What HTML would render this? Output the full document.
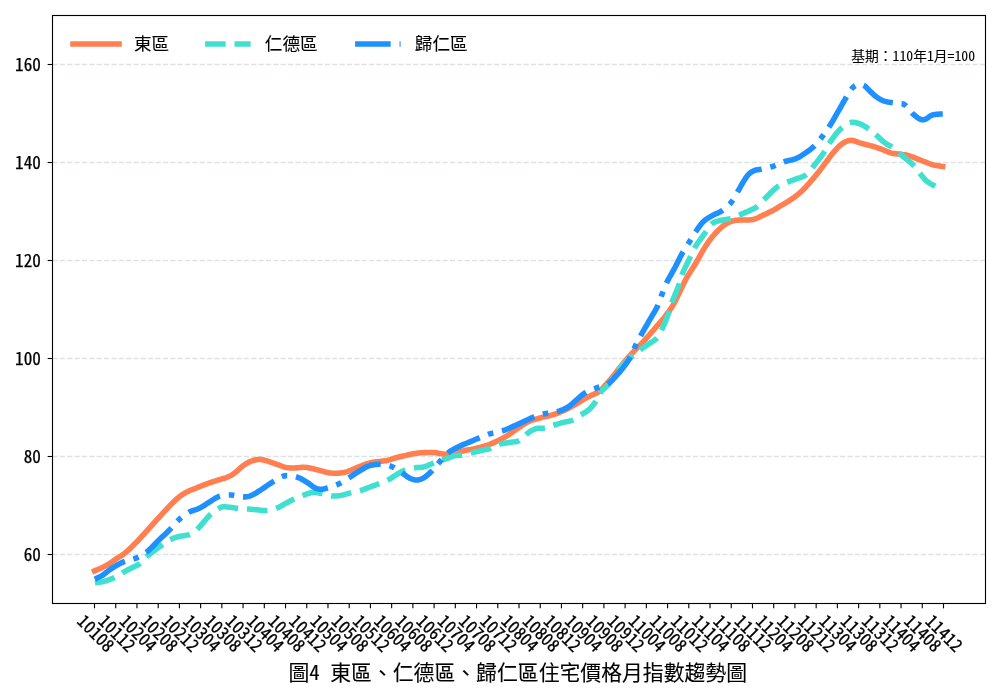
<!DOCTYPE html>
<html><head><meta charset="utf-8"><title>圖4 東區、仁德區、歸仁區住宅價格月指數趨勢圖</title>
<style>
html,body{margin:0;padding:0;background:#fff;width:1000px;height:700px;overflow:hidden}
svg{display:block;will-change:transform}
text{font-family:'Noto Sans Mono CJK TC','Noto Sans CJK TC','Liberation Sans',sans-serif;fill:#000;stroke:#000;stroke-width:0.25px}
</style></head><body>
<svg width="1000" height="700" viewBox="0 0 1000 700">
<rect width="1000" height="700" fill="#ffffff"/>
<line x1="52.5" y1="554.5" x2="985.5" y2="554.5" stroke="#dde2e3" stroke-width="1.389" stroke-dasharray="5.14 2.22"/>
<line x1="52.5" y1="456.5" x2="985.5" y2="456.5" stroke="#dde2e3" stroke-width="1.389" stroke-dasharray="5.14 2.22"/>
<line x1="52.5" y1="358.5" x2="985.5" y2="358.5" stroke="#dde2e3" stroke-width="1.389" stroke-dasharray="5.14 2.22"/>
<line x1="52.5" y1="260.5" x2="985.5" y2="260.5" stroke="#dde2e3" stroke-width="1.389" stroke-dasharray="5.14 2.22"/>
<line x1="52.5" y1="162.5" x2="985.5" y2="162.5" stroke="#dde2e3" stroke-width="1.389" stroke-dasharray="5.14 2.22"/>
<line x1="52.5" y1="64.5" x2="985.5" y2="64.5" stroke="#dde2e3" stroke-width="1.389" stroke-dasharray="5.14 2.22"/>
<path d="M94.50 570.90 L95.81 570.34 L97.12 569.79 L98.43 569.24 L99.74 568.68 L101.03 568.10 L102.30 567.50 L103.52 566.89 L104.71 566.27 L105.90 565.64 L107.07 564.98 L108.24 564.31 L109.40 563.60 L110.59 562.83 L111.78 562.00 L112.96 561.15 L114.12 560.30 L115.27 559.48 L116.40 558.70 L117.38 558.07 L118.34 557.48 L119.29 556.90 L120.23 556.33 L121.16 555.74 L122.10 555.10 L123.08 554.39 L124.06 553.66 L125.03 552.90 L125.99 552.12 L126.95 551.32 L127.90 550.50 L128.87 549.63 L129.83 548.73 L130.77 547.81 L131.72 546.88 L132.66 545.94 L133.60 545.00 L134.55 544.06 L135.49 543.12 L136.42 542.18 L137.37 541.21 L138.32 540.23 L139.30 539.20 L140.44 537.98 L141.59 536.73 L142.77 535.43 L143.96 534.11 L145.17 532.76 L146.40 531.40 L147.79 529.86 L149.21 528.27 L150.65 526.66 L152.10 525.03 L153.55 523.40 L155.00 521.80 L156.43 520.22 L157.86 518.65 L159.30 517.07 L160.73 515.51 L162.16 513.95 L163.60 512.40 L165.01 510.87 L166.42 509.34 L167.82 507.82 L169.24 506.31 L170.66 504.84 L172.10 503.40 L173.50 502.03 L174.91 500.67 L176.33 499.33 L177.77 498.05 L179.22 496.83 L180.70 495.70 L182.12 494.73 L183.58 493.82 L185.06 492.97 L186.52 492.18 L187.95 491.46 L189.30 490.80 L190.30 490.35 L191.27 489.97 L192.21 489.62 L193.14 489.29 L194.06 488.96 L195.00 488.60 L195.95 488.21 L196.90 487.81 L197.85 487.40 L198.80 486.99 L199.75 486.59 L200.70 486.20 L201.65 485.82 L202.60 485.45 L203.55 485.08 L204.50 484.71 L205.45 484.35 L206.40 484.00 L207.35 483.65 L208.29 483.31 L209.24 482.98 L210.19 482.64 L211.14 482.32 L212.10 482.00 L213.07 481.68 L214.06 481.37 L215.06 481.07 L216.04 480.77 L216.99 480.48 L217.90 480.20 L218.62 479.97 L219.31 479.75 L219.99 479.54 L220.65 479.33 L221.32 479.12 L222.00 478.90 L222.72 478.68 L223.44 478.47 L224.16 478.26 L224.90 478.03 L225.64 477.78 L226.40 477.50 L227.32 477.13 L228.27 476.73 L229.24 476.30 L230.22 475.84 L231.17 475.34 L232.10 474.80 L233.03 474.19 L233.94 473.52 L234.83 472.82 L235.71 472.09 L236.60 471.35 L237.50 470.60 L238.46 469.78 L239.42 468.93 L240.38 468.05 L241.34 467.19 L242.31 466.36 L243.30 465.60 L244.23 464.94 L245.16 464.30 L246.10 463.69 L247.06 463.12 L248.02 462.59 L249.00 462.10 L249.98 461.66 L250.98 461.25 L252.00 460.87 L253.01 460.54 L254.02 460.25 L255.00 460.00 L255.84 459.81 L256.66 459.65 L257.47 459.52 L258.29 459.43 L259.12 459.39 L260.00 459.40 L261.11 459.50 L262.27 459.69 L263.47 459.95 L264.67 460.26 L265.86 460.58 L267.00 460.90 L268.03 461.21 L269.04 461.55 L270.04 461.91 L271.02 462.28 L272.01 462.64 L273.00 463.00 L274.00 463.35 L275.00 463.70 L276.00 464.05 L277.00 464.40 L278.00 464.75 L279.00 465.10 L280.00 465.46 L280.99 465.85 L281.99 466.23 L282.99 466.60 L283.99 466.92 L285.00 467.20 L285.99 467.42 L286.99 467.60 L287.99 467.74 L288.99 467.85 L290.00 467.94 L291.00 468.00 L291.99 468.03 L292.97 468.02 L293.95 467.98 L294.94 467.92 L295.95 467.86 L297.00 467.80 L298.25 467.71 L299.54 467.59 L300.86 467.46 L302.19 467.35 L303.51 467.28 L304.80 467.30 L306.01 467.40 L307.20 467.55 L308.38 467.75 L309.56 467.98 L310.76 468.24 L312.00 468.50 L313.45 468.83 L314.93 469.20 L316.44 469.60 L317.96 470.01 L319.49 470.42 L321.00 470.80 L322.50 471.18 L324.02 471.58 L325.53 471.98 L327.04 472.34 L328.53 472.66 L330.00 472.90 L331.33 473.06 L332.65 473.17 L333.95 473.23 L335.24 473.26 L336.53 473.25 L337.80 473.20 L339.03 473.12 L340.25 473.00 L341.47 472.85 L342.67 472.67 L343.85 472.45 L345.00 472.20 L346.04 471.93 L347.05 471.63 L348.05 471.30 L349.03 470.95 L350.01 470.58 L351.00 470.20 L352.01 469.80 L353.01 469.37 L354.00 468.92 L355.00 468.47 L356.00 468.03 L357.00 467.60 L358.00 467.19 L359.00 466.78 L359.99 466.37 L361.00 465.97 L362.00 465.58 L363.00 465.20 L364.00 464.82 L364.99 464.45 L365.99 464.08 L366.99 463.72 L367.99 463.40 L369.00 463.10 L369.99 462.84 L370.99 462.61 L371.99 462.41 L372.99 462.22 L374.00 462.06 L375.00 461.90 L376.00 461.77 L377.00 461.66 L378.00 461.58 L379.00 461.49 L380.00 461.40 L381.00 461.30 L382.00 461.19 L383.01 461.09 L384.01 460.98 L385.01 460.85 L386.01 460.70 L387.00 460.50 L388.01 460.24 L389.01 459.94 L390.00 459.60 L391.00 459.25 L392.00 458.91 L393.00 458.60 L394.00 458.31 L395.00 458.04 L396.00 457.77 L397.00 457.51 L398.00 457.25 L399.00 457.00 L399.99 456.76 L400.98 456.52 L401.97 456.29 L402.96 456.06 L403.97 455.84 L405.00 455.60 L406.15 455.33 L407.32 455.05 L408.51 454.77 L409.70 454.50 L410.90 454.24 L412.10 454.00 L413.29 453.78 L414.49 453.57 L415.69 453.37 L416.90 453.19 L418.10 453.03 L419.30 452.90 L420.48 452.80 L421.67 452.73 L422.85 452.68 L424.03 452.65 L425.21 452.62 L426.40 452.60 L427.60 452.57 L428.80 452.54 L430.00 452.52 L431.20 452.51 L432.40 452.54 L433.60 452.60 L434.80 452.71 L436.01 452.87 L437.22 453.05 L438.41 453.24 L439.58 453.43 L440.70 453.60 L441.62 453.75 L442.51 453.91 L443.38 454.07 L444.24 454.20 L445.11 454.29 L446.00 454.30 L446.99 454.22 L447.99 454.05 L448.99 453.83 L450.01 453.58 L451.05 453.33 L452.10 453.10 L453.27 452.87 L454.46 452.64 L455.67 452.41 L456.88 452.17 L458.10 451.94 L459.30 451.70 L460.49 451.47 L461.67 451.23 L462.85 451.00 L464.03 450.77 L465.21 450.53 L466.40 450.30 L467.60 450.07 L468.80 449.85 L470.00 449.62 L471.21 449.40 L472.40 449.16 L473.60 448.90 L474.79 448.63 L475.97 448.34 L477.15 448.04 L478.34 447.74 L479.52 447.42 L480.70 447.10 L481.90 446.78 L483.11 446.45 L484.31 446.12 L485.51 445.77 L486.71 445.40 L487.90 445.00 L489.10 444.57 L490.28 444.11 L491.47 443.63 L492.65 443.14 L493.83 442.62 L495.00 442.10 L496.19 441.56 L497.38 441.00 L498.56 440.43 L499.75 439.84 L500.92 439.23 L502.10 438.60 L503.31 437.93 L504.52 437.24 L505.72 436.53 L506.92 435.80 L508.11 435.06 L509.30 434.30 L510.50 433.50 L511.68 432.68 L512.86 431.84 L514.04 430.99 L515.22 430.14 L516.40 429.30 L517.59 428.45 L518.79 427.59 L519.98 426.72 L521.18 425.87 L522.38 425.06 L523.60 424.30 L524.77 423.62 L525.94 422.96 L527.12 422.34 L528.30 421.75 L529.50 421.20 L530.70 420.70 L531.90 420.26 L533.15 419.88 L534.40 419.53 L535.63 419.20 L536.81 418.90 L537.90 418.60 L538.65 418.38 L539.34 418.18 L540.00 417.98 L540.66 417.79 L541.35 417.60 L542.10 417.40 L543.19 417.13 L544.36 416.86 L545.58 416.58 L546.83 416.30 L548.08 416.01 L549.30 415.70 L550.49 415.38 L551.68 415.06 L552.86 414.72 L554.04 414.37 L555.22 414.00 L556.40 413.60 L557.61 413.17 L558.81 412.71 L560.02 412.24 L561.22 411.74 L562.41 411.23 L563.60 410.70 L564.80 410.14 L565.98 409.57 L567.17 408.97 L568.35 408.36 L569.52 407.74 L570.70 407.10 L571.90 406.43 L573.11 405.74 L574.31 405.04 L575.51 404.33 L576.71 403.61 L577.90 402.90 L579.09 402.18 L580.27 401.45 L581.45 400.72 L582.63 399.99 L583.81 399.28 L585.00 398.60 L586.17 397.96 L587.35 397.35 L588.54 396.76 L589.72 396.18 L590.91 395.59 L592.10 395.00 L593.31 394.43 L594.53 393.90 L595.75 393.37 L596.96 392.80 L598.15 392.16 L599.30 391.40 L600.55 390.38 L601.75 389.22 L602.93 387.96 L604.08 386.64 L605.24 385.31 L606.40 384.00 L607.61 382.66 L608.82 381.31 L610.03 379.93 L611.23 378.54 L612.42 377.13 L613.60 375.70 L614.80 374.19 L615.98 372.63 L617.15 371.06 L618.32 369.48 L619.50 367.92 L620.70 366.40 L621.88 364.95 L623.08 363.51 L624.28 362.09 L625.48 360.68 L626.69 359.29 L627.90 357.90 L629.08 356.55 L630.25 355.21 L631.43 353.89 L632.61 352.57 L633.80 351.28 L635.00 350.00 L636.17 348.81 L637.32 347.69 L638.49 346.58 L639.68 345.44 L640.91 344.23 L642.20 342.90 L644.06 340.88 L646.04 338.66 L648.09 336.30 L650.17 333.88 L652.23 331.49 L654.20 329.20 L655.98 327.16 L657.75 325.16 L659.50 323.18 L661.21 321.21 L662.88 319.22 L664.50 317.20 L666.02 315.24 L667.50 313.28 L668.95 311.31 L670.35 309.32 L671.70 307.29 L673.00 305.20 L674.26 303.00 L675.44 300.74 L676.57 298.45 L677.67 296.13 L678.78 293.80 L679.90 291.50 L681.02 289.20 L682.12 286.89 L683.21 284.58 L684.32 282.27 L685.48 279.98 L686.70 277.70 L688.04 275.41 L689.44 273.16 L690.88 270.92 L692.36 268.67 L693.83 266.37 L695.30 264.00 L696.91 261.24 L698.54 258.33 L700.19 255.37 L701.82 252.45 L703.43 249.66 L705.00 247.10 L706.21 245.24 L707.38 243.48 L708.54 241.81 L709.70 240.20 L710.88 238.63 L712.10 237.10 L713.26 235.70 L714.44 234.33 L715.63 233.00 L716.84 231.72 L718.07 230.48 L719.30 229.30 L720.45 228.23 L721.61 227.19 L722.78 226.19 L723.96 225.25 L725.17 224.38 L726.40 223.60 L727.56 222.96 L728.75 222.38 L729.95 221.87 L731.16 221.42 L732.38 221.03 L733.60 220.70 L734.77 220.46 L735.95 220.29 L737.13 220.18 L738.32 220.11 L739.51 220.05 L740.70 220.00 L741.90 219.97 L743.10 219.99 L744.30 220.02 L745.50 220.06 L746.70 220.06 L747.90 220.00 L749.09 219.90 L750.28 219.79 L751.47 219.64 L752.66 219.45 L753.83 219.21 L755.00 218.90 L756.20 218.49 L757.39 217.99 L758.57 217.44 L759.74 216.86 L760.92 216.27 L762.10 215.70 L763.31 215.14 L764.53 214.58 L765.76 214.01 L766.97 213.43 L768.15 212.86 L769.30 212.30 L770.29 211.81 L771.24 211.32 L772.16 210.84 L773.09 210.35 L774.03 209.84 L775.00 209.30 L776.14 208.64 L777.31 207.94 L778.50 207.21 L779.70 206.47 L780.91 205.73 L782.10 205.00 L783.30 204.29 L784.50 203.59 L785.71 202.89 L786.91 202.18 L788.11 201.45 L789.30 200.70 L790.50 199.92 L791.69 199.12 L792.88 198.30 L794.06 197.47 L795.23 196.60 L796.40 195.70 L797.62 194.71 L798.84 193.69 L800.04 192.64 L801.24 191.56 L802.43 190.44 L803.60 189.30 L804.81 188.06 L806.00 186.77 L807.18 185.45 L808.36 184.11 L809.53 182.75 L810.70 181.40 L811.90 180.02 L813.10 178.64 L814.30 177.24 L815.50 175.82 L816.70 174.38 L817.90 172.90 L819.19 171.26 L820.48 169.57 L821.77 167.85 L823.07 166.11 L824.38 164.35 L825.70 162.60 L827.10 160.73 L828.50 158.81 L829.92 156.88 L831.36 154.97 L832.82 153.13 L834.30 151.40 L835.66 149.88 L837.04 148.37 L838.43 146.91 L839.84 145.56 L841.30 144.34 L842.80 143.30 L844.17 142.51 L845.59 141.80 L847.03 141.21 L848.49 140.74 L849.95 140.43 L851.40 140.30 L852.83 140.41 L854.26 140.77 L855.69 141.27 L857.13 141.85 L858.56 142.42 L860.00 142.90 L861.46 143.31 L862.95 143.71 L864.44 144.11 L865.90 144.49 L867.30 144.86 L868.60 145.20 L869.50 145.43 L870.32 145.63 L871.11 145.83 L871.89 146.02 L872.71 146.24 L873.60 146.50 L874.89 146.90 L876.27 147.35 L877.72 147.83 L879.19 148.34 L880.66 148.87 L882.10 149.40 L883.53 149.98 L884.96 150.61 L886.38 151.26 L887.81 151.88 L889.25 152.44 L890.70 152.90 L892.12 153.22 L893.55 153.46 L894.98 153.63 L896.42 153.77 L897.86 153.92 L899.30 154.10 L900.74 154.29 L902.18 154.46 L903.62 154.64 L905.05 154.84 L906.48 155.08 L907.90 155.40 L909.33 155.81 L910.75 156.29 L912.17 156.82 L913.58 157.38 L914.99 157.95 L916.40 158.50 L917.83 159.06 L919.26 159.63 L920.70 160.21 L922.13 160.78 L923.56 161.35 L925.00 161.90 L926.43 162.44 L927.85 162.98 L929.27 163.51 L930.70 164.02 L932.14 164.49 L933.60 164.90 L935.08 165.25 L936.57 165.54 L938.08 165.79 L939.59 166.02 L941.10 166.25 L942.60 166.50" fill="none" stroke="#ff7f50" stroke-width="5.556" stroke-linecap="square" stroke-linejoin="round"/>
<path d="M94.97 582.84 L95.79 582.74 L97.05 582.60 L98.32 582.46 L99.61 582.30 L100.93 582.09 L102.30 581.80 L104.11 581.33 L106.03 580.77 L108.01 580.13 L109.98 579.43 L111.89 578.68 L113.70 577.90 L114.62 577.45M122.24 572.94 L122.30 572.90 L123.74 572.11 L125.18 571.34 L126.63 570.58 L128.08 569.83 L129.54 569.07 L131.00 568.30 L132.53 567.53 L134.10 566.80 L135.68 566.06 L137.23 565.28 L138.71 564.44 L140.10 563.50 L140.31 563.32M146.40 556.89 L146.70 556.60 L148.90 554.74 L151.45 552.73 L154.20 550.66 L156.99 548.62 L159.67 546.70 L162.10 545.00 L162.76 544.54M170.17 539.69 L171.10 539.20 L172.28 538.66 L173.43 538.20 L174.57 537.80 L175.70 537.44 L176.84 537.11 L178.00 536.80 L179.18 536.52 L180.38 536.29 L181.60 536.08 L182.79 535.89 L183.93 535.70 L185.00 535.50 L185.77 535.36 L186.48 535.24 L187.16 535.13 L187.84 534.99 L188.55 534.79 L189.30 534.50 L189.85 534.24M197.15 529.25 L199.25 527.21 L201.54 524.65 L203.90 521.85 L206.27 519.03 L208.55 516.44 L210.70 514.30 L210.96 514.08M218.14 508.88 L218.60 508.60 L219.23 508.21 L219.80 507.86 L220.33 507.55 L220.87 507.29 L221.45 507.07 L222.10 506.90 L223.09 506.77 L224.18 506.76 L225.34 506.83 L226.54 506.95 L227.77 507.08 L229.00 507.20 L230.42 507.34 L231.88 507.53 L233.37 507.73 L234.88 507.94 L236.39 508.14 L237.90 508.30 L238.10 508.32M246.96 508.89 L247.10 508.90 L248.73 509.04 L250.37 509.19 L252.02 509.35 L253.68 509.50 L255.34 509.66 L257.00 509.80 L258.68 509.96 L260.38 510.16 L262.08 510.35 L263.77 510.50 L265.45 510.56 L267.10 510.50 L267.44 510.46M276.07 508.42 L276.40 508.30 L277.88 507.68 L279.32 506.97 L280.75 506.19 L282.16 505.38 L283.58 504.58 L285.00 503.80 L286.43 503.04 L287.85 502.28 L289.27 501.51 L290.69 500.75 L292.14 500.01 L293.60 499.30 L294.32 498.97M302.53 495.54 L302.90 495.40 L304.42 494.83 L305.94 494.25 L307.46 493.70 L308.99 493.22 L310.53 492.84 L312.10 492.60 L313.74 492.52 L315.41 492.59 L317.09 492.76 L318.78 493.01 L320.45 493.30 L322.10 493.60 L322.54 493.70M331.13 495.96 L331.40 496.00 L332.94 496.09 L334.47 496.09 L336.01 496.00 L337.56 495.85 L339.12 495.64 L340.70 495.40 L342.46 495.06 L344.25 494.61 L346.06 494.11 L347.86 493.57 L349.65 493.06 L351.29 492.63M359.97 490.70 L360.70 490.50 L362.26 489.99 L363.81 489.43 L365.36 488.83 L366.91 488.21 L368.45 487.59 L370.00 487.00 L371.55 486.43 L373.12 485.87 L374.68 485.31 L376.23 484.75 L377.78 484.18 L379.26 483.61M387.47 480.21 L387.90 480.00 L389.29 479.24 L390.65 478.42 L392.00 477.55 L393.33 476.68 L394.67 475.82 L396.00 475.00 L397.25 474.24 L398.48 473.47 L399.70 472.71 L400.94 471.99 L402.23 471.31 L403.60 470.70 L405.26 470.09 L405.33 470.07M413.97 467.96 L414.30 467.90 L415.88 467.67 L417.44 467.55 L418.98 467.46 L420.52 467.36 L422.05 467.19 L423.60 466.90 L425.27 466.42 L426.96 465.83 L428.65 465.15 L430.32 464.44 L431.98 463.74 L433.60 463.10 L433.80 463.02M442.19 459.97 L442.98 459.73 L443.80 459.50 L444.59 459.30 L445.37 459.09 L446.16 458.87 L447.00 458.60 L448.04 458.21 L449.11 457.75 L450.20 457.26 L451.31 456.79 L452.44 456.35 L453.60 456.00 L454.84 455.74 L456.10 455.56 L457.39 455.44 L458.70 455.33 L460.04 455.19 L461.40 455.00 L462.09 454.88M470.84 453.03 L471.40 452.90 L473.01 452.53 L474.61 452.15 L476.21 451.76 L477.80 451.37 L479.40 450.99 L481.00 450.60 L482.62 450.24 L484.26 449.90 L485.90 449.56 L487.53 449.20 L489.13 448.79 L490.70 448.30 L490.95 448.20M499.05 444.39 L499.30 444.30 L500.90 443.85 L502.55 443.49 L504.23 443.19 L505.92 442.93 L507.62 442.68 L509.30 442.40 L511.00 442.16 L512.73 442.00 L514.47 441.84 L516.17 441.62 L517.79 441.26 L519.30 440.70 L519.36 440.66M526.03 434.74 L526.40 434.40 L527.28 433.68 L528.13 432.98 L528.96 432.32 L529.79 431.70 L530.63 431.13 L531.50 430.60 L532.36 430.14 L533.25 429.72 L534.15 429.34 L535.05 429.01 L535.94 428.72 L536.80 428.50 L537.52 428.37 L538.23 428.29 L538.93 428.24 L539.62 428.23 L540.31 428.22 L541.00 428.20 L541.67 428.20 L542.34 428.23 L543.01 428.27 L543.68 428.29 L544.34 428.27 L544.91 428.21M553.37 425.27 L553.60 425.20 L554.97 424.78 L556.47 424.33 L558.07 423.87 L559.72 423.40 L561.38 422.94 L563.00 422.50 L564.65 422.10 L566.34 421.75 L568.04 421.41 L569.72 421.03 L571.35 420.58 L572.90 420.00 L573.34 419.78M580.85 414.90 L582.14 414.10 L583.62 413.22 L585.11 412.32 L586.58 411.38 L587.99 410.39 L589.30 409.30 L590.51 408.13 L591.65 406.88 L592.73 405.57 L593.76 404.21 L594.74 402.81 L595.70 401.40 L595.90 401.06M600.03 393.11 L600.70 392.10 L601.84 390.77 L603.09 389.56 L604.42 388.41 L605.79 387.24 L607.16 385.96 L608.50 384.50 L610.20 382.25 L611.88 379.70 L613.33 377.37M618.30 369.92 L619.00 369.00 L620.98 366.74 L623.06 364.54 L625.22 362.40 L627.39 360.36 L629.53 358.42 L631.60 356.60 L633.03 355.38M640.14 349.94 L641.30 349.10 L642.63 348.15 L643.93 347.25 L645.20 346.39 L646.47 345.53 L647.73 344.68 L649.00 343.80 L650.29 342.94 L651.60 342.12 L652.90 341.30 L654.18 340.43 L655.39 339.48 L656.50 338.40 L656.92 337.89M661.49 330.22 L662.00 329.20 L663.17 326.74 L664.36 324.03 L665.54 321.18 L666.68 318.30 L667.74 315.51 L668.70 312.90 L669.32 311.10M671.94 302.58 L672.20 301.80 L673.21 299.10 L674.37 296.20 L675.60 293.21 L676.83 290.21 L677.99 287.31 L679.00 284.60 L679.40 283.38M681.97 274.87 L682.50 273.40 L683.59 270.80 L684.86 268.04 L686.23 265.21 L687.63 262.40 L688.98 259.70 L690.20 257.20 L690.64 256.26M694.47 248.25 L695.00 247.30 L696.52 244.87 L698.29 242.26 L700.19 239.58 L702.14 236.93 L704.01 234.40 L705.70 232.10 L706.17 231.41M711.38 224.25 L712.10 223.60 L713.19 222.87 L714.32 222.30 L715.50 221.83 L716.72 221.44 L717.98 221.08 L719.30 220.70 L720.96 220.29 L722.73 219.96 L724.57 219.67 L726.42 219.37 L728.25 219.03 L730.00 218.60 L730.81 218.34M739.08 215.09 L739.30 215.00 L740.97 214.31 L742.68 213.60 L744.40 212.88 L746.09 212.15 L747.74 211.42 L749.30 210.70 L750.57 210.13 L751.78 209.60 L752.96 209.07 L754.11 208.50 L755.25 207.86 L756.40 207.10 L757.58 206.16M763.82 199.78 L764.30 199.30 L766.36 197.23 L768.59 194.92 L770.92 192.52 L773.29 190.20 L775.64 188.10 L777.90 186.40 L778.96 185.76M787.22 182.31 L787.50 182.20 L788.78 181.68 L790.02 181.20 L791.23 180.73 L792.44 180.27 L793.69 179.80 L795.00 179.30 L796.67 178.72 L798.45 178.17 L800.28 177.61 L802.09 176.98 L803.82 176.23 L805.40 175.30 L806.36 174.54M812.21 167.76 L812.90 166.90 L814.84 164.52 L816.96 161.86 L819.14 159.05 L821.27 156.23 L823.23 153.53 L824.79 151.26M829.19 143.45 L829.60 142.80 L831.23 140.43 L833.12 137.79 L835.18 135.04 L837.34 132.36 L839.50 129.93 L841.60 127.90 L842.20 127.39M849.76 122.72 L850.90 122.40 L852.29 122.24 L853.69 122.29 L855.10 122.49 L856.50 122.82 L857.90 123.23 L859.30 123.70 L860.87 124.33 L862.46 125.10 L864.05 125.98 L865.61 126.94 L867.14 127.92 L868.60 128.90 L868.76 129.01M875.73 134.57 L876.00 134.80 L877.46 136.09 L878.95 137.48 L880.46 138.91 L881.96 140.32 L883.45 141.64 L884.90 142.80 L886.04 143.59 L887.16 144.27 L888.27 144.89 L889.38 145.50 L890.48 146.15 L891.60 146.90 L891.93 147.15M898.72 152.90 L899.30 153.40 L901.55 155.25 L904.09 157.28 L906.76 159.42 L909.40 161.59 L911.83 163.71 L913.90 165.70 L914.36 166.21M919.78 173.25 L919.90 173.40 L920.97 174.72 L922.05 176.07 L923.14 177.42 L924.27 178.72 L925.45 179.96 L926.70 181.10 L928.02 182.12 L929.43 183.06 L930.88 183.93 L932.36 184.75 L933.84 185.54 L935.28 186.29" fill="none" stroke="#40e0d0" stroke-width="5.556" stroke-linecap="butt" stroke-linejoin="round"/>
<path d="M94.83 579.14 L95.81 578.67 L97.13 578.05 L98.45 577.44 L99.76 576.81 L101.04 576.13 L102.30 575.40 L103.53 574.58 L104.72 573.68 L105.88 572.75 L107.04 571.80 L108.21 570.88 L109.40 570.00 L110.58 569.18 L111.78 568.38 L112.97 567.60 L114.18 566.84 L115.39 566.11 L116.60 565.40 L117.75 564.74 L118.87 564.11 L120.00 563.51 L121.16 562.92 L122.38 562.35 L123.70 561.80 L124.97 561.37M133.46 559.07 L133.90 558.94 L135.90 558.20 L137.78 557.36 L138.55 556.98M146.09 552.44 L146.70 552.00 L148.70 550.35 L150.68 548.51 L152.63 546.54 L154.58 544.51 L156.53 542.47 L158.50 540.50 L160.52 538.56 L162.57 536.61 L164.62 534.65 L166.65 532.71 L168.62 530.79 L170.50 528.90 L171.45 527.89M177.35 521.30 L177.86 520.77 L179.40 519.30 L180.97 517.94 L181.43 517.56M188.67 512.47 L189.30 512.10 L190.93 511.33 L192.60 510.70 L194.28 510.15 L195.97 509.61 L197.65 509.02 L199.30 508.30 L200.99 507.39 L202.67 506.39 L204.32 505.31 L205.98 504.22 L207.63 503.13 L209.30 502.10 L210.94 501.08 L212.56 500.01 L214.18 498.96 L215.83 497.97 L217.53 497.10 L219.30 496.40 L220.00 496.21M228.76 495.01 L229.36 494.99 L231.40 495.00 L233.47 495.17 L234.30 495.31M243.02 496.86 L243.60 496.90 L244.89 496.87 L246.08 496.78 L247.23 496.63 L248.35 496.40 L249.50 496.10 L250.70 495.70 L252.35 495.00 L254.11 494.08 L255.90 493.04 L257.64 491.95 L259.27 490.91 L260.70 490.00 L261.51 489.48 L262.22 489.01 L262.88 488.56 L263.53 488.11 L264.22 487.63 L265.00 487.10 L266.24 486.25 L267.59 485.32 L269.02 484.33 L270.51 483.33 L272.04 482.34 L273.60 481.40 L274.14 481.07M281.85 476.71 L283.02 476.22 L285.00 475.70 L286.98 475.48 L287.21 475.48M295.94 476.76 L297.10 477.10 L299.01 477.81 L300.89 478.70 L302.74 479.72 L304.54 480.79 L306.26 481.87 L307.90 482.90 L309.19 483.77 L310.41 484.69 L311.58 485.62 L312.71 486.50 L313.85 487.27 L315.00 487.90 L315.96 488.30 L316.91 488.64 L317.86 488.90 L318.80 489.10 L319.75 489.23 L320.70 489.30 L321.62 489.29 L322.52 489.20 L323.42 489.04 L324.35 488.83 L325.34 488.58 L326.40 488.30 L327.87 487.89M336.25 485.02 L336.59 484.89 L338.60 484.00 L340.50 483.04 L341.25 482.62M348.77 477.94 L349.30 477.60 L350.36 476.92 L351.35 476.26 L352.29 475.63 L353.20 475.01 L354.09 474.40 L355.00 473.80 L355.85 473.25 L356.69 472.70 L357.52 472.17 L358.34 471.64 L359.17 471.12 L360.00 470.60 L360.84 470.08 L361.68 469.55 L362.52 469.03 L363.36 468.52 L364.19 468.04 L365.00 467.60 L365.67 467.25 L366.32 466.92 L366.96 466.61 L367.60 466.32 L368.28 466.05 L369.00 465.80 L369.92 465.53 L370.91 465.30 L371.93 465.09 L372.97 464.90 L374.00 464.74 L375.00 464.60 L375.91 464.48 L376.81 464.38 L377.71 464.29 L378.60 464.23 L379.50 464.20 L380.40 464.20 L380.71 464.21M389.44 465.68 L389.98 465.85 L391.02 466.24 L392.10 466.70 L393.67 467.50 L394.48 467.97M401.94 472.79 L402.10 472.90 L403.37 473.78 L404.58 474.70 L405.75 475.60 L406.91 476.45 L408.08 477.23 L409.30 477.90 L410.46 478.44 L411.63 478.93 L412.82 479.36 L414.01 479.70 L415.21 479.92 L416.40 480.00 L417.60 479.93 L418.80 479.74 L420.01 479.43 L421.21 479.01 L422.41 478.50 L423.60 477.90 L425.04 477.01 L426.49 475.94 L427.93 474.72 L429.35 473.41 L430.74 472.05 L432.10 470.70 L432.34 470.44M438.09 463.67 L438.68 462.94 L440.00 461.40 L441.27 459.92 L441.68 459.43M447.79 453.00 L447.90 452.90 L449.63 451.64 L451.49 450.47 L453.43 449.37 L455.42 448.33 L457.39 447.35 L459.30 446.40 L460.99 445.59 L462.66 444.85 L464.32 444.15 L465.98 443.47 L467.64 442.79 L469.30 442.10 L470.96 441.39 L472.60 440.69 L474.25 439.99 L475.91 439.29 L477.59 438.59 L479.30 437.90 L479.75 437.72M488.01 434.50 L488.75 434.23 L490.70 433.60 L492.68 433.06 L493.33 432.92M501.97 430.97 L502.90 430.70 L505.41 429.79 L507.99 428.74 L510.60 427.59 L513.24 426.39 L515.88 425.18 L518.50 424.00 L521.16 422.80 L523.86 421.53 L526.56 420.26 L529.22 419.03 L531.81 417.89 L534.30 416.90 L534.42 416.86M542.85 414.21 L543.43 414.06 L545.30 413.60 L547.36 413.19 L548.25 413.05M556.96 411.63 L557.90 411.40 L559.67 410.84 L561.41 410.23 L563.10 409.56 L564.74 408.82 L566.34 408.00 L567.90 407.10 L569.41 406.08 L570.85 404.94 L572.25 403.72 L573.62 402.47 L575.00 401.21 L576.40 400.00 L577.80 398.79 L579.18 397.54 L580.55 396.30 L581.96 395.09 L583.43 393.95 L585.00 392.90 L586.07 392.31M594.21 388.85 L594.73 388.66 L596.70 387.90 L598.60 387.23 L599.42 386.98M607.69 383.91 L607.90 383.80 L609.73 382.47 L611.52 380.90 L613.24 379.17 L614.89 377.38 L616.44 375.62 L617.90 374.00 L618.97 372.82 L619.95 371.69 L620.87 370.59 L621.77 369.47 L622.67 368.32 L623.60 367.10 L624.72 365.62 L625.86 364.08 L627.01 362.48 L628.13 360.85 L629.20 359.18 L630.20 357.50 L630.47 356.97M634.07 348.86 L634.16 348.63 L635.00 346.80 L635.97 344.81 L636.46 343.84M640.57 335.96 L641.30 334.60 L642.59 332.26 L643.94 329.87 L645.32 327.46 L646.72 325.03 L648.12 322.61 L649.50 320.20 L650.89 317.82 L652.33 315.42 L653.76 313.03 L655.15 310.66 L656.45 308.31 L657.60 306.00 L658.04 304.99M661.11 296.64 L661.18 296.43 L661.90 294.50 L662.69 292.45 L663.08 291.44M666.45 283.20 L667.00 282.00 L668.20 279.63 L669.50 277.22 L670.87 274.80 L672.28 272.37 L673.67 269.93 L675.00 267.50 L676.27 265.05 L677.53 262.55 L678.76 260.05 L680.00 257.59 L681.24 255.19 L682.50 252.90 L683.17 251.76M687.94 244.23 L688.16 243.90 L689.30 242.10 L690.47 240.20 L690.89 239.51M695.57 231.93 L696.40 230.70 L697.55 229.04 L698.69 227.38 L699.84 225.76 L701.03 224.21 L702.28 222.74 L703.60 221.40 L704.90 220.27 L706.27 219.25 L707.68 218.31 L709.13 217.43 L710.60 216.56 L712.10 215.70 L713.71 214.84 L715.39 214.07 L717.11 213.33 L718.82 212.55 L720.49 211.69 L722.10 210.70 L722.83 210.17M729.48 204.27 L730.03 203.70 L731.40 202.10 L732.65 200.44 L732.97 199.94M737.42 192.24 L737.90 191.40 L738.87 189.70 L739.82 187.99 L740.75 186.29 L741.68 184.61 L742.62 182.97 L743.60 181.40 L744.51 179.98 L745.42 178.55 L746.34 177.16 L747.29 175.84 L748.27 174.64 L749.30 173.60 L750.19 172.86 L751.12 172.20 L752.07 171.63 L753.04 171.12 L754.02 170.68 L755.00 170.30 L755.91 170.03 L756.80 169.85 L757.70 169.72 L758.63 169.62 L759.62 169.49 L760.70 169.30 L761.65 169.11M770.31 167.15 L770.83 167.01 L772.90 166.40 L774.94 165.68 L775.58 165.41M783.76 161.95 L785.00 161.50 L786.88 160.96 L788.78 160.52 L790.66 160.13 L792.52 159.72 L794.34 159.23 L796.10 158.60 L797.74 157.84 L799.34 156.97 L800.89 156.03 L802.41 155.04 L803.91 154.02 L805.40 153.00 L806.86 152.00 L808.29 150.99 L809.70 149.95 L811.09 148.87 L812.45 147.72 L813.80 146.50 L814.62 145.68M820.40 138.98 L820.78 138.50 L822.10 136.80 L823.40 135.09 L823.77 134.59M828.81 127.32 L829.60 126.10 L831.01 123.84 L832.41 121.48 L833.81 119.05 L835.21 116.59 L836.61 114.13 L838.00 111.70 L839.39 109.27 L840.78 106.80 L842.17 104.33 L843.55 101.90 L844.93 99.54 L846.30 97.30 L846.58 96.84M851.27 89.39 L852.07 88.35 L853.30 87.10 L854.22 86.36 L855.15 85.72 L855.25 85.66M863.57 85.40 L863.62 85.42 L864.50 85.90 L865.47 86.57 L866.39 87.39 L867.29 88.32 L868.18 89.30 L869.07 90.28 L870.00 91.20 L870.97 92.12 L871.96 93.06 L872.95 94.00 L873.95 94.92 L874.97 95.79 L876.00 96.60 L876.98 97.30 L877.98 97.97 L878.99 98.60 L880.00 99.19 L881.01 99.72 L882.00 100.20 L882.85 100.56 L883.68 100.87 L884.52 101.14 L885.35 101.38 L886.18 101.59 L887.00 101.80 L887.77 101.97 L888.53 102.12 L889.28 102.25 L890.04 102.37 L890.81 102.48 L891.60 102.60 L892.47 102.72 L892.86 102.77M901.53 103.63 L901.75 103.65 L902.94 103.92 L904.10 104.40 L905.58 105.46 L906.23 106.12M911.82 112.77 L912.30 113.30 L912.82 113.79 L913.28 114.20 L913.72 114.56 L914.13 114.90 L914.55 115.24 L915.00 115.60 L915.49 116.01 L916.00 116.44 L916.51 116.86 L917.02 117.27 L917.52 117.66 L918.00 118.00 L918.38 118.25 L918.74 118.47 L919.10 118.68 L919.46 118.87 L919.83 119.04 L920.20 119.20 L920.57 119.34 L920.95 119.48 L921.33 119.60 L921.72 119.69 L922.11 119.76 L922.50 119.80 L922.91 119.80 L923.33 119.78 L923.75 119.72 L924.17 119.64 L924.59 119.53 L925.00 119.40 L925.43 119.23 L925.85 119.02 L926.27 118.79 L926.68 118.53 L927.09 118.27 L927.50 118.00 L927.92 117.70 L928.34 117.37 L928.75 117.03 L929.16 116.69 L929.57 116.38 L930.00 116.10 L930.41 115.87 L930.82 115.66 L931.23 115.47 L931.65 115.30 L932.08 115.14 L932.50 115.00 L932.90 114.88 L933.30 114.79 L933.71 114.71 L934.12 114.63 L934.55 114.57 L935.00 114.50 L935.61 114.42 L936.26 114.34 L936.94 114.27 L937.63 114.20 L938.32 114.15 L939.00 114.10 L939.67 114.07 L940.33 114.04 L941.00 114.03 L941.67 114.02 L942.33 114.01 L942.78 114.00" fill="none" stroke="#1e90ff" stroke-width="5.556" stroke-linecap="butt" stroke-linejoin="round"/>
<rect x="52.5" y="15.5" width="933.0" height="588.0" fill="none" stroke="#000" stroke-width="1.111"/>
<line x1="47.64" y1="554.5" x2="52.5" y2="554.5" stroke="#000" stroke-width="1.111"/>
<text x="40.9" y="560.80" font-size="17.2" text-anchor="end">60</text>
<line x1="47.64" y1="456.5" x2="52.5" y2="456.5" stroke="#000" stroke-width="1.111"/>
<text x="40.9" y="462.80" font-size="17.2" text-anchor="end">80</text>
<line x1="47.64" y1="358.5" x2="52.5" y2="358.5" stroke="#000" stroke-width="1.111"/>
<text x="40.9" y="364.80" font-size="17.2" text-anchor="end">100</text>
<line x1="47.64" y1="260.5" x2="52.5" y2="260.5" stroke="#000" stroke-width="1.111"/>
<text x="40.9" y="266.80" font-size="17.2" text-anchor="end">120</text>
<line x1="47.64" y1="162.5" x2="52.5" y2="162.5" stroke="#000" stroke-width="1.111"/>
<text x="40.9" y="168.80" font-size="17.2" text-anchor="end">140</text>
<line x1="47.64" y1="64.5" x2="52.5" y2="64.5" stroke="#000" stroke-width="1.111"/>
<text x="40.9" y="70.80" font-size="17.2" text-anchor="end">160</text>
<line x1="94.50" y1="603.5" x2="94.50" y2="608.36" stroke="#000" stroke-width="1.111"/>
<text transform="translate(96.70,632.4) rotate(45)" x="0" y="0" font-size="17.4" text-anchor="middle" dominant-baseline="central">10108</text>
<line x1="115.72" y1="603.5" x2="115.72" y2="608.36" stroke="#000" stroke-width="1.111"/>
<text transform="translate(117.91,632.4) rotate(45)" x="0" y="0" font-size="17.4" text-anchor="middle" dominant-baseline="central">10112</text>
<line x1="136.95" y1="603.5" x2="136.95" y2="608.36" stroke="#000" stroke-width="1.111"/>
<text transform="translate(139.11,632.4) rotate(45)" x="0" y="0" font-size="17.4" text-anchor="middle" dominant-baseline="central">10204</text>
<line x1="158.18" y1="603.5" x2="158.18" y2="608.36" stroke="#000" stroke-width="1.111"/>
<text transform="translate(160.32,632.4) rotate(45)" x="0" y="0" font-size="17.4" text-anchor="middle" dominant-baseline="central">10208</text>
<line x1="179.40" y1="603.5" x2="179.40" y2="608.36" stroke="#000" stroke-width="1.111"/>
<text transform="translate(181.53,632.4) rotate(45)" x="0" y="0" font-size="17.4" text-anchor="middle" dominant-baseline="central">10212</text>
<line x1="200.62" y1="603.5" x2="200.62" y2="608.36" stroke="#000" stroke-width="1.111"/>
<text transform="translate(202.74,632.4) rotate(45)" x="0" y="0" font-size="17.4" text-anchor="middle" dominant-baseline="central">10304</text>
<line x1="221.85" y1="603.5" x2="221.85" y2="608.36" stroke="#000" stroke-width="1.111"/>
<text transform="translate(223.94,632.4) rotate(45)" x="0" y="0" font-size="17.4" text-anchor="middle" dominant-baseline="central">10308</text>
<line x1="243.07" y1="603.5" x2="243.07" y2="608.36" stroke="#000" stroke-width="1.111"/>
<text transform="translate(245.15,632.4) rotate(45)" x="0" y="0" font-size="17.4" text-anchor="middle" dominant-baseline="central">10312</text>
<line x1="264.30" y1="603.5" x2="264.30" y2="608.36" stroke="#000" stroke-width="1.111"/>
<text transform="translate(266.36,632.4) rotate(45)" x="0" y="0" font-size="17.4" text-anchor="middle" dominant-baseline="central">10404</text>
<line x1="285.52" y1="603.5" x2="285.52" y2="608.36" stroke="#000" stroke-width="1.111"/>
<text transform="translate(287.57,632.4) rotate(45)" x="0" y="0" font-size="17.4" text-anchor="middle" dominant-baseline="central">10408</text>
<line x1="306.75" y1="603.5" x2="306.75" y2="608.36" stroke="#000" stroke-width="1.111"/>
<text transform="translate(308.77,632.4) rotate(45)" x="0" y="0" font-size="17.4" text-anchor="middle" dominant-baseline="central">10412</text>
<line x1="327.98" y1="603.5" x2="327.98" y2="608.36" stroke="#000" stroke-width="1.111"/>
<text transform="translate(329.98,632.4) rotate(45)" x="0" y="0" font-size="17.4" text-anchor="middle" dominant-baseline="central">10504</text>
<line x1="349.20" y1="603.5" x2="349.20" y2="608.36" stroke="#000" stroke-width="1.111"/>
<text transform="translate(351.19,632.4) rotate(45)" x="0" y="0" font-size="17.4" text-anchor="middle" dominant-baseline="central">10508</text>
<line x1="370.43" y1="603.5" x2="370.43" y2="608.36" stroke="#000" stroke-width="1.111"/>
<text transform="translate(372.40,632.4) rotate(45)" x="0" y="0" font-size="17.4" text-anchor="middle" dominant-baseline="central">10512</text>
<line x1="391.65" y1="603.5" x2="391.65" y2="608.36" stroke="#000" stroke-width="1.111"/>
<text transform="translate(393.60,632.4) rotate(45)" x="0" y="0" font-size="17.4" text-anchor="middle" dominant-baseline="central">10604</text>
<line x1="412.88" y1="603.5" x2="412.88" y2="608.36" stroke="#000" stroke-width="1.111"/>
<text transform="translate(414.81,632.4) rotate(45)" x="0" y="0" font-size="17.4" text-anchor="middle" dominant-baseline="central">10608</text>
<line x1="434.10" y1="603.5" x2="434.10" y2="608.36" stroke="#000" stroke-width="1.111"/>
<text transform="translate(436.02,632.4) rotate(45)" x="0" y="0" font-size="17.4" text-anchor="middle" dominant-baseline="central">10612</text>
<line x1="455.32" y1="603.5" x2="455.32" y2="608.36" stroke="#000" stroke-width="1.111"/>
<text transform="translate(457.23,632.4) rotate(45)" x="0" y="0" font-size="17.4" text-anchor="middle" dominant-baseline="central">10704</text>
<line x1="476.55" y1="603.5" x2="476.55" y2="608.36" stroke="#000" stroke-width="1.111"/>
<text transform="translate(478.44,632.4) rotate(45)" x="0" y="0" font-size="17.4" text-anchor="middle" dominant-baseline="central">10708</text>
<line x1="497.77" y1="603.5" x2="497.77" y2="608.36" stroke="#000" stroke-width="1.111"/>
<text transform="translate(499.64,632.4) rotate(45)" x="0" y="0" font-size="17.4" text-anchor="middle" dominant-baseline="central">10712</text>
<line x1="519.00" y1="603.5" x2="519.00" y2="608.36" stroke="#000" stroke-width="1.111"/>
<text transform="translate(520.85,632.4) rotate(45)" x="0" y="0" font-size="17.4" text-anchor="middle" dominant-baseline="central">10804</text>
<line x1="540.23" y1="603.5" x2="540.23" y2="608.36" stroke="#000" stroke-width="1.111"/>
<text transform="translate(542.06,632.4) rotate(45)" x="0" y="0" font-size="17.4" text-anchor="middle" dominant-baseline="central">10808</text>
<line x1="561.45" y1="603.5" x2="561.45" y2="608.36" stroke="#000" stroke-width="1.111"/>
<text transform="translate(563.27,632.4) rotate(45)" x="0" y="0" font-size="17.4" text-anchor="middle" dominant-baseline="central">10812</text>
<line x1="582.67" y1="603.5" x2="582.67" y2="608.36" stroke="#000" stroke-width="1.111"/>
<text transform="translate(584.47,632.4) rotate(45)" x="0" y="0" font-size="17.4" text-anchor="middle" dominant-baseline="central">10904</text>
<line x1="603.90" y1="603.5" x2="603.90" y2="608.36" stroke="#000" stroke-width="1.111"/>
<text transform="translate(605.68,632.4) rotate(45)" x="0" y="0" font-size="17.4" text-anchor="middle" dominant-baseline="central">10908</text>
<line x1="625.12" y1="603.5" x2="625.12" y2="608.36" stroke="#000" stroke-width="1.111"/>
<text transform="translate(626.89,632.4) rotate(45)" x="0" y="0" font-size="17.4" text-anchor="middle" dominant-baseline="central">10912</text>
<line x1="646.35" y1="603.5" x2="646.35" y2="608.36" stroke="#000" stroke-width="1.111"/>
<text transform="translate(648.10,632.4) rotate(45)" x="0" y="0" font-size="17.4" text-anchor="middle" dominant-baseline="central">11004</text>
<line x1="667.58" y1="603.5" x2="667.58" y2="608.36" stroke="#000" stroke-width="1.111"/>
<text transform="translate(669.30,632.4) rotate(45)" x="0" y="0" font-size="17.4" text-anchor="middle" dominant-baseline="central">11008</text>
<line x1="688.80" y1="603.5" x2="688.80" y2="608.36" stroke="#000" stroke-width="1.111"/>
<text transform="translate(690.51,632.4) rotate(45)" x="0" y="0" font-size="17.4" text-anchor="middle" dominant-baseline="central">11012</text>
<line x1="710.02" y1="603.5" x2="710.02" y2="608.36" stroke="#000" stroke-width="1.111"/>
<text transform="translate(711.72,632.4) rotate(45)" x="0" y="0" font-size="17.4" text-anchor="middle" dominant-baseline="central">11104</text>
<line x1="731.25" y1="603.5" x2="731.25" y2="608.36" stroke="#000" stroke-width="1.111"/>
<text transform="translate(732.93,632.4) rotate(45)" x="0" y="0" font-size="17.4" text-anchor="middle" dominant-baseline="central">11108</text>
<line x1="752.48" y1="603.5" x2="752.48" y2="608.36" stroke="#000" stroke-width="1.111"/>
<text transform="translate(754.13,632.4) rotate(45)" x="0" y="0" font-size="17.4" text-anchor="middle" dominant-baseline="central">11112</text>
<line x1="773.70" y1="603.5" x2="773.70" y2="608.36" stroke="#000" stroke-width="1.111"/>
<text transform="translate(775.34,632.4) rotate(45)" x="0" y="0" font-size="17.4" text-anchor="middle" dominant-baseline="central">11204</text>
<line x1="794.92" y1="603.5" x2="794.92" y2="608.36" stroke="#000" stroke-width="1.111"/>
<text transform="translate(796.55,632.4) rotate(45)" x="0" y="0" font-size="17.4" text-anchor="middle" dominant-baseline="central">11208</text>
<line x1="816.15" y1="603.5" x2="816.15" y2="608.36" stroke="#000" stroke-width="1.111"/>
<text transform="translate(817.75,632.4) rotate(45)" x="0" y="0" font-size="17.4" text-anchor="middle" dominant-baseline="central">11212</text>
<line x1="837.38" y1="603.5" x2="837.38" y2="608.36" stroke="#000" stroke-width="1.111"/>
<text transform="translate(838.96,632.4) rotate(45)" x="0" y="0" font-size="17.4" text-anchor="middle" dominant-baseline="central">11304</text>
<line x1="858.60" y1="603.5" x2="858.60" y2="608.36" stroke="#000" stroke-width="1.111"/>
<text transform="translate(860.17,632.4) rotate(45)" x="0" y="0" font-size="17.4" text-anchor="middle" dominant-baseline="central">11308</text>
<line x1="879.83" y1="603.5" x2="879.83" y2="608.36" stroke="#000" stroke-width="1.111"/>
<text transform="translate(881.38,632.4) rotate(45)" x="0" y="0" font-size="17.4" text-anchor="middle" dominant-baseline="central">11312</text>
<line x1="901.05" y1="603.5" x2="901.05" y2="608.36" stroke="#000" stroke-width="1.111"/>
<text transform="translate(902.59,632.4) rotate(45)" x="0" y="0" font-size="17.4" text-anchor="middle" dominant-baseline="central">11404</text>
<line x1="922.27" y1="603.5" x2="922.27" y2="608.36" stroke="#000" stroke-width="1.111"/>
<text transform="translate(923.79,632.4) rotate(45)" x="0" y="0" font-size="17.4" text-anchor="middle" dominant-baseline="central">11408</text>
<line x1="943.50" y1="603.5" x2="943.50" y2="608.36" stroke="#000" stroke-width="1.111"/>
<text transform="translate(945.00,632.4) rotate(45)" x="0" y="0" font-size="17.4" text-anchor="middle" dominant-baseline="central">11412</text>
<line x1="73" y1="44" x2="119" y2="44" stroke="#ff7f50" stroke-width="5.556" stroke-linecap="square"/>
<text x="134" y="50.3" font-size="17.6" style="stroke-width:0.1px">東區</text>
<line x1="205.1" y1="44" x2="250.6" y2="44" stroke="#40e0d0" stroke-width="5.556" stroke-dasharray="20.56 8.89"/>
<text x="264.8" y="50.3" font-size="17.6" style="stroke-width:0.1px">仁德區</text>
<line x1="355.1" y1="44" x2="400.6" y2="44" stroke="#1e90ff" stroke-width="5.556" stroke-dasharray="35.56 8.89 5.56 8.89"/>
<text x="414.8" y="50.3" font-size="17.6" style="stroke-width:0.1px">歸仁區</text>
<text x="975.1" y="60.6" font-size="13.75" text-anchor="end" style="stroke-width:0.08px">基期：110年1月=100</text>
<text x="517.8" y="680" font-size="20.85" text-anchor="middle" style="stroke-width:0.1px">圖4 東區、仁德區、歸仁區住宅價格月指數趨勢圖</text>
</svg>
</body></html>
